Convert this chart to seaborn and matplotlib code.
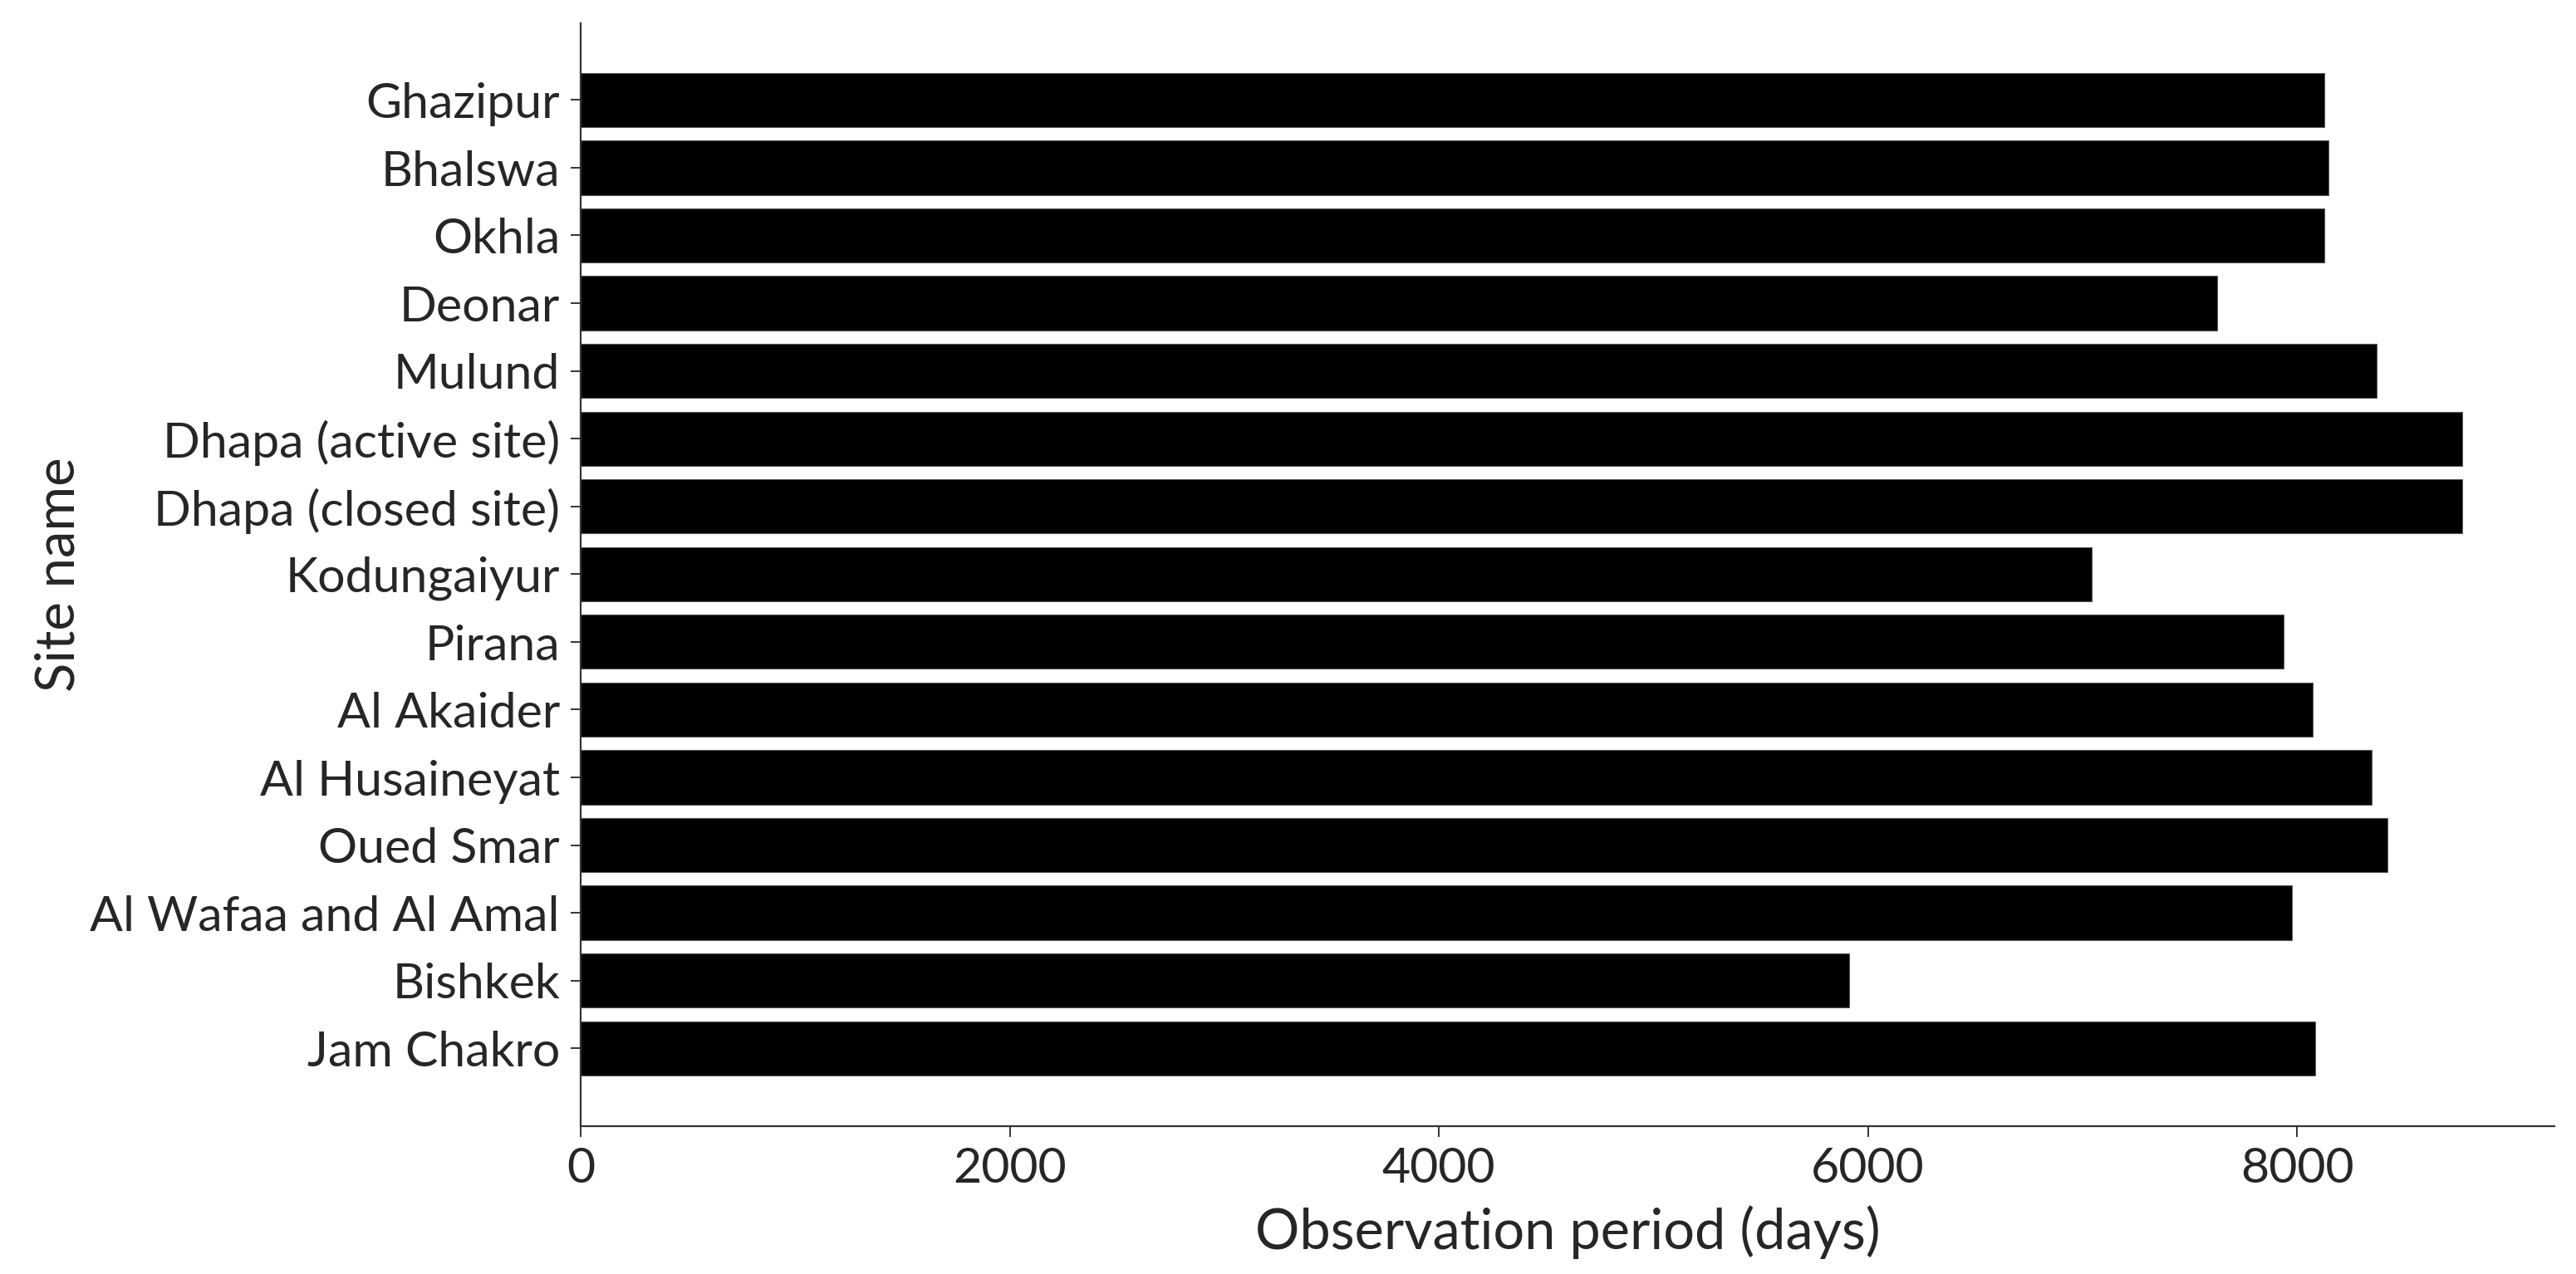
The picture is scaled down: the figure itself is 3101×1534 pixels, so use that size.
import matplotlib
matplotlib.use("Agg")
import matplotlib.pyplot as plt
import seaborn as sns
import pandas as pd

sites = ["Ghazipur", "Bhalswa", "Okhla", "Deonar", "Mulund",
         "Dhapa (active site)", "Dhapa (closed site)", "Kodungaiyur", "Pirana",
         "Al Akaider", "Al Husaineyat", "Oued Smar", "Al Wafaa and Al Amal",
         "Bishkek", "Jam Chakro"]
days = [8126, 8147, 8126, 7629, 8370, 8771, 8771, 7045, 7936,
        8074, 8347, 8421, 7978, 5912, 8084]
xticks = [0, 2000, 4000, 6000, 8000]

sns.set_theme(style="ticks")
plt.rcParams['font.family'] = ['Lato', 'DejaVu Sans']

df = pd.DataFrame({"site": sites, "days": days})

fig = plt.figure(figsize=(31.01, 15.342), dpi=100)
ax = fig.add_axes([699/3101, 1-1356/1534, (3075-699)/3101, (1356-28)/1534])
sns.barplot(data=df, x="days", y="site", orient="h", color="black",
            width=0.8, saturation=1, ax=ax, edgecolor="#555555", linewidth=0.8)
ax.set_xlim(0, 9200)
ax.set_ylim(14 + 1.15, -1.135)
ax.set_xticks(xticks)
ax.set_xticklabels([str(v) for v in xticks])
ax.set_xlabel("Observation period (days)", fontsize=48, labelpad=12)
ax.set_ylabel("Site name", fontsize=47, labelpad=6)
ax.tick_params(axis="both", labelsize=42.5, length=9, width=1.4, color="#333333", pad=9)
for s in ["top", "right"]:
    ax.spines[s].set_visible(False)
for s in ["left", "bottom"]:
    ax.spines[s].set_linewidth(1.6)
    ax.spines[s].set_color("#333333")

fig.savefig("out.png", dpi=100)
